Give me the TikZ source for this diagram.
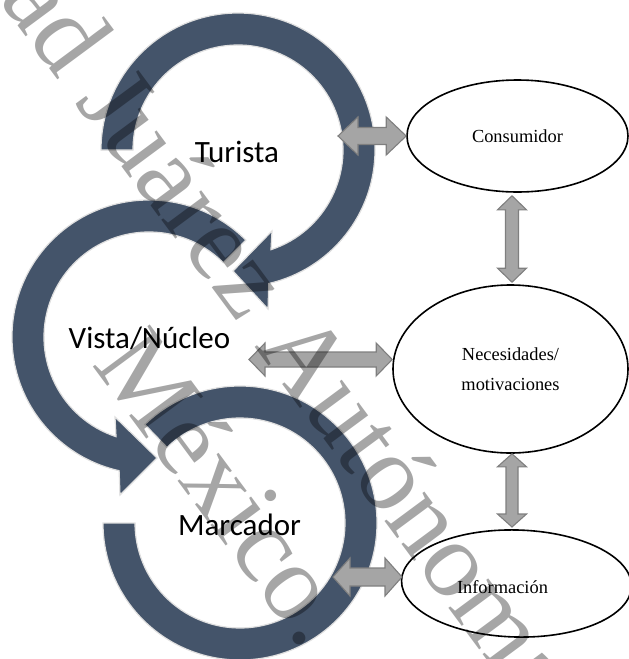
\documentclass[tikz,border=0pt]{standalone}
\usepackage{fontspec}
\setmainfont{Liberation Serif}
\newfontfamily\ringfont{Carlito}
\usetikzlibrary{calc, shapes.geometric}

\definecolor{ringblue}{HTML}{44546A}
\definecolor{arrowfill}{HTML}{A5A5A5}
\definecolor{arrowedge}{HTML}{7F7F7F}
\definecolor{markgray}{HTML}{A6A6A6}

\tikzset{
  ring/.style={fill=ringblue, draw=black!12, line width=1.2pt, line join=miter},
  steplabel/.style={font=\ringfont\fontsize{31}{36}\selectfont, anchor=base, inner sep=0pt},
  oval/.style={ellipse, draw, line width=1.6pt, inner sep=0pt, align=center,
    font=\fontsize{18.4}{30}\selectfont},
  % #1 half head width, #2 half shaft width, #3 head length
  twoway/.style n args={3}{draw=arrowedge, fill=arrowfill, line width=1.1pt, line join=miter,
    to path={-- ($(\tikztostart)!#3!(\tikztotarget)!#1!90:(\tikztotarget)$)
      -- ($(\tikztostart)!#3!(\tikztotarget)!#2!90:(\tikztotarget)$)
      -- ($(\tikztotarget)!#3!(\tikztostart)!#2!-90:(\tikztostart)$)
      -- ($(\tikztotarget)!#3!(\tikztostart)!#1!-90:(\tikztostart)$)
      -- (\tikztotarget)
      -- ($(\tikztotarget)!#3!(\tikztostart)!#1!90:(\tikztostart)$)
      -- ($(\tikztotarget)!#3!(\tikztostart)!#2!90:(\tikztostart)$)
      -- ($(\tikztostart)!#3!(\tikztotarget)!#2!-90:(\tikztotarget)$)
      -- ($(\tikztostart)!#3!(\tikztotarget)!#1!-90:(\tikztotarget)$)
      -- cycle}},
  watermark/.style={font=\fontsize{108}{130}\selectfont, text=markgray, anchor=base west,
    inner sep=0pt, rotate=-53.5}
}

\begin{document}
\begin{tikzpicture}[x=1pt, y=-1pt]
\useasboundingbox (0,0) rectangle (629,659);
\clip (0,0) rectangle (629,659);

\coordinate (c1) at (238,150);
\coordinate (c2) at (149,337);
\coordinate (c3) at (240,523);

% circular arrows
\draw[ring] ($(c3)+(180:137)$) arc[start angle=180, end angle=-134, radius=137]
  -- ($(c3)+(-134:105)$) arc[start angle=-134, end angle=180, radius=105] -- cycle;
\draw[ring] ($(c2)+(-45:137)$) arc[start angle=-45, end angle=-257.4, radius=137]
  -- (120,495) -- (157,458) -- (115,417)
  -- ($(c2)+(-251.7:105)$) arc[start angle=-251.7, end angle=-45, radius=105] -- cycle;
\draw[ring] ($(c1)+(180:137)$) arc[start angle=180, end angle=437, radius=137]
  -- (268,309) -- (233,271) -- (272,231)
  -- ($(c1)+(71.7:105)$) arc[start angle=71.7, end angle=-180, radius=105] -- cycle;

\node[steplabel] (turista) at (237,162) {Turista};
\node[steplabel] (vista) at (149.5,348) {Vista/Núcleo};
\node[steplabel] (marcador) at (239.5,535) {Marcador};

\node[oval, minimum width=221pt, minimum height=112pt] (cons) at (517.5,136) {Consumidor};
\node[oval, minimum width=235pt, minimum height=168pt] (need) at (510.5,369) {Necesidades/\\motivaciones};
\node[oval, minimum width=230pt, minimum height=107pt, rotate=-1.5] (info) at (516.5,583.5) {};
\node[font=\fontsize{18.4}{22}\selectfont, anchor=base, inner sep=0pt] (infotxt) at (502.5,593) {Información};

\coordinate (turR) at (338,136);
\coordinate (vistaR) at (249,359.5);
\coordinate (marcR) at (333,577);
\coordinate (needL) at (vistaR -| need.west);
\coordinate (consB) at ($(cons.south)+(-5.5,3)$);
\coordinate (needT) at ($(need.north)+(1.5,-2)$);
\coordinate (needB) at ($(need.south)+(1.5,0)$);
\coordinate (infoT) at (512,527);
\coordinate (infoL) at (402,577);

% grey double arrows
\draw[twoway={19pt}{8.5pt}{20pt}] (turR) to (cons.west);
\draw[twoway={14.5pt}{6.5pt}{14pt}] (consB) to (needT);
\draw[twoway={16.5pt}{7.5pt}{16pt}] (vistaR) to (needL);
\draw[twoway={14.5pt}{6pt}{13pt}] (needB) to (infoT);
\draw[twoway={19pt}{9pt}{17pt}] (marcR) to (infoL);

\begin{scope}[blend mode=multiply]
\node[watermark] (wm1) at (-2,-1) {ad Juárez Autónoma};
\node[watermark] (wm2) at (91.6,364.7) {México.};
\end{scope}
\end{tikzpicture}
\end{document}
